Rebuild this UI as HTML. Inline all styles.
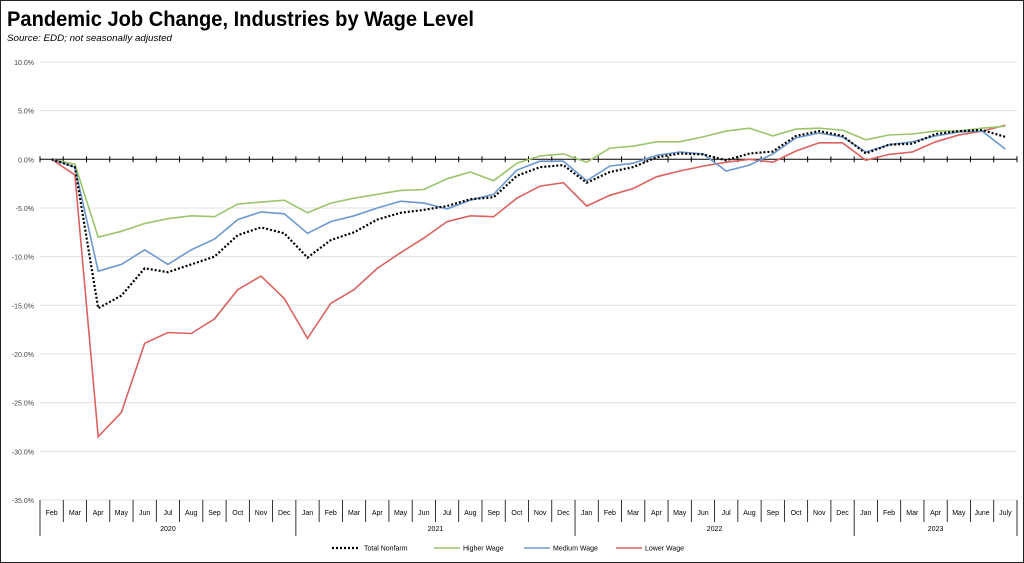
<!DOCTYPE html>
<html><head><meta charset="utf-8"><style>
html,body{margin:0;padding:0;background:#fff}
#w{position:relative;width:1022px;height:561px;border:1px solid #222;overflow:hidden;font-family:"Liberation Sans",sans-serif}
</style></head><body><div id="w">
<svg id="s" width="1022" height="561" xmlns="http://www.w3.org/2000/svg" font-family="Liberation Sans, sans-serif"></svg>
</div>
<script>
const s=document.getElementById('s');let h='';
const X0=39,X1=1016,n=42,st=(X1-X0)/n;
const Y=v=>158.3-v*9.733;
h+='<text x="6" y="25" font-size="21" font-weight="bold" fill="#000" textLength="467" lengthAdjust="spacingAndGlyphs">Pandemic Job Change, Industries by Wage Level</text>';
h+='<text x="6" y="40" font-size="9" font-style="italic" fill="#000" textLength="165" lengthAdjust="spacingAndGlyphs">Source:  EDD; not seasonally adjusted</text>';
for(let v=10;v>=-35;v-=5){const y=Y(v);
 if(v!==0)h+=`<line x1="${X0}" x2="${X1}" y1="${y}" y2="${y}" stroke="#e0e0e0" stroke-width="1"/>`;
 h+=`<text x="33" y="${y+3}" font-size="7" text-anchor="end" fill="#444">${v.toFixed(1)}%</text>`;}
const y0=Y(0);
h+=`<line x1="${X0}" x2="${X1}" y1="${y0}" y2="${y0}" stroke="#000" stroke-width="1"/>`;
for(let i=0;i<=n;i++){const x=X0+i*st;h+=`<line x1="${x}" x2="${x}" y1="${y0-3}" y2="${y0+3}" stroke="#000"/>`;}
const Yb=Y(-35);
const mon=['Feb','Mar','Apr','May','Jun','Jul','Aug','Sep','Oct','Nov','Dec','Jan','Feb','Mar','Apr','May','Jun','Jul','Aug','Sep','Oct','Nov','Dec','Jan','Feb','Mar','Apr','May','Jun','Jul','Aug','Sep','Oct','Nov','Dec','Jan','Feb','Mar','Apr','May','June','July'];
for(let i=0;i<=n;i++){const x=X0+i*st;const yr=(i==0||i==11||i==23||i==35||i==42);
 h+=`<line x1="${x}" x2="${x}" y1="${Yb}" y2="${yr?535:521}" stroke="#000" stroke-width="0.8"/>`;}
mon.forEach((m,i)=>{h+=`<text x="${X0+(i+.5)*st}" y="514" font-size="7" text-anchor="middle" fill="#000">${m}</text>`;});
[[0,11,'2020'],[11,23,'2021'],[23,35,'2022'],[35,42,'2023']].forEach(a=>{h+=`<text x="${X0+(a[0]+a[1])/2*st}" y="530" font-size="7" text-anchor="middle" fill="#000">${a[2]}</text>`;});
const low=[0,-1.6,-28.5,-26,-18.9,-17.8,-17.9,-16.4,-13.4,-12,-14.3,-18.4,-14.8,-13.4,-11.2,-9.6,-8.1,-6.4,-5.8,-5.9,-4,-2.75,-2.4,-4.8,-3.7,-3,-1.8,-1.2,-0.7,-0.3,0,-0.3,0.85,1.7,1.7,-0.1,0.5,0.75,1.8,2.5,2.9,3.5];
const hi=[0,-0.5,-8,-7.4,-6.6,-6.1,-5.8,-5.9,-4.6,-4.4,-4.2,-5.5,-4.5,-4,-3.6,-3.2,-3.1,-2,-1.3,-2.2,-0.4,0.35,0.55,-0.3,1.15,1.35,1.8,1.8,2.3,2.9,3.2,2.4,3.1,3.2,3.0,2.0,2.5,2.6,2.9,2.9,3.2,3.4];
const med=[0,-0.8,-11.5,-10.8,-9.3,-10.8,-9.3,-8.2,-6.2,-5.4,-5.6,-7.6,-6.4,-5.8,-5,-4.3,-4.5,-5.1,-4.2,-3.6,-1.1,-0.2,-0.2,-2.2,-0.7,-0.4,0.4,0.75,0.55,-1.2,-0.6,0.55,2.2,2.7,2.3,0.75,1.5,1.8,2.4,2.8,2.9,1.05];
const tot=[0,-0.8,-15.3,-14,-11.2,-11.6,-10.8,-10,-7.8,-7,-7.6,-10.1,-8.3,-7.5,-6.2,-5.5,-5.2,-4.8,-4.1,-3.9,-1.7,-0.8,-0.6,-2.4,-1.3,-0.8,0.2,0.6,0.5,-0.1,0.6,0.8,2.4,2.9,2.4,0.6,1.5,1.6,2.6,2.9,3.0,2.3];
const pts=d=>d.map((v,i)=>`${(X0+(i+.5)*st).toFixed(1)},${Y(v).toFixed(1)}`).join(' ');
h+=`<polyline points="${pts(low)}" fill="none" stroke="#d9625f" stroke-width="1.6"/>`;
h+=`<polyline points="${pts(hi)}" fill="none" stroke="#9bc46b" stroke-width="1.6"/>`;
h+=`<polyline points="${pts(med)}" fill="none" stroke="#6d98cf" stroke-width="1.6"/>`;
h+=`<polyline points="${pts(tot)}" fill="none" stroke="#000" stroke-width="2.2" stroke-dasharray="2,2"/>`;
const ly=547;
h+=`<line x1="331" x2="359" y1="${ly}" y2="${ly}" stroke="#000" stroke-width="2.2" stroke-dasharray="2,2"/><text x="363" y="${ly+2.5}" font-size="7">Total Nonfarm</text>`;
h+=`<line x1="433" x2="459" y1="${ly}" y2="${ly}" stroke="#9bc46b" stroke-width="1.6"/><text x="462" y="${ly+2.5}" font-size="7">Higher Wage</text>`;
h+=`<line x1="523" x2="549" y1="${ly}" y2="${ly}" stroke="#6d98cf" stroke-width="1.6"/><text x="552" y="${ly+2.5}" font-size="7">Medium Wage</text>`;
h+=`<line x1="615" x2="641" y1="${ly}" y2="${ly}" stroke="#d9625f" stroke-width="1.6"/><text x="644" y="${ly+2.5}" font-size="7">Lower Wage</text>`;
s.innerHTML=h;
</script></body></html>
